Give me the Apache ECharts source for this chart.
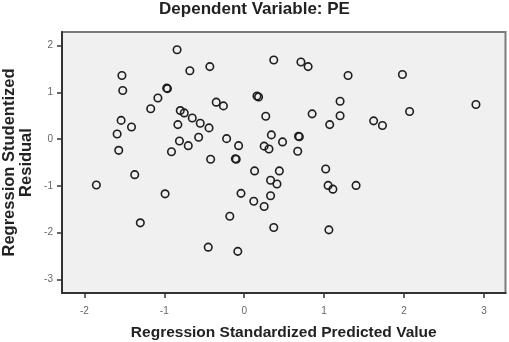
<!DOCTYPE html>
<html>
<head>
<meta charset="utf-8">
<script src="https://cdn.jsdelivr.net/npm/echarts@6/dist/echarts.min.js"></script>
<style>
  html, body { margin: 0; padding: 0; background: #fff; }
  #main { width: 509px; height: 342px; }
</style>
</head>
<body>
<div id="main"></div>
<script>
// 回归标准化预测值 vs 学生化残差
let pred_values = [
  -1.85, -1.53, -1.52, -1.54, -1.59, -1.57, -1.41, -1.37, -1.30, -1.17,
  -1.08, -0.97, -0.96, -0.99, -0.91, -0.84, -0.80, -0.75, -0.83, -0.81,
  -0.70, -0.65, -0.68, -0.55, -0.57, -0.44, -0.43, -0.35, -0.26, -0.42,
  -0.45, -0.22, -0.07, -0.11, -0.10, -0.18, -0.04, -0.08, 0.13, 0.12,
  0.16, 0.18, 0.27, 0.25, 0.31, 0.25, 0.34, 0.37, 0.33, 0.41,
  0.44, 0.33, 0.37, 0.48, 0.68, 0.69, 0.67, 0.71, 0.80, 0.85,
  1.02, 1.05, 1.11, 1.06, 1.07, 1.20, 1.20, 1.30, 1.40, 1.62,
  1.73, 1.98, 2.07, 2.90
];
let resid_values = [
  -0.98, 1.36, 1.04, 0.40, 0.11, -0.24, 0.26, -0.76, -1.79, 0.65,
  0.88, 1.09, 1.08, -1.17, -0.27, 1.91, 0.61, 0.56, 0.31, -0.04,
  -0.14, 0.45, 1.46, 0.34, 0.04, 0.24, 1.55, 0.79, 0.71, -0.43,
  -2.31, 0.01, -0.14, -0.42, -0.43, -1.65, -1.16, -2.40, -0.68, -1.33,
  0.92, 0.90, 0.49, -0.15, -0.21, -1.44, 0.09, 1.69, -0.88, -0.96,
  -0.68, -1.21, -1.89, -0.06, 0.06, 0.05, -0.26, 1.65, 1.55, 0.54,
  -0.64, -0.99, -1.07, -1.94, 0.31, 0.81, 0.50, 1.36, -0.99, 0.39,
  0.29, 1.38, 0.59, 0.74
];
let x_ticks = [-2, -1, 0, 1, 2, 3];
let y_ticks = [-3, -2, -1, 0, 1, 2];

let chart = echarts.init(document.getElementById('main'), null, { renderer: 'canvas' });

let points = [];
for (let i = 0; i < pred_values.length; i++) {
  points.push([pred_values[i], resid_values[i]]);
}

let option = {
  backgroundColor: '#ffffff',
  animation: false,
  title: {
    text: 'Dependent Variable: PE',
    left: 'center',
    top: -4,
    textStyle: {
      fontFamily: 'Liberation Sans, Arial, sans-serif',
      fontSize: 17,
      fontWeight: 'bold',
      color: '#222',
    },
  },
  grid: {
    left: 62,
    right: 3.5,
    top: 32,
    bottom: 49,
    containLabel: false,
    outerBoundsMode: 'none',
    show: true,
    backgroundColor: '#f0f0f0',
    borderColor: '#7a7a7a',
    borderWidth: 2,
  },
  xAxis: {
    type: 'value',
    min: -2.28,
    max: 3.27,
    name: 'Regression Standardized Predicted Value',
    nameLocation: 'middle',
    nameGap: 32,
    nameMoveOverlap: false,
    nameTextStyle: {
      fontFamily: 'Liberation Sans, Arial, sans-serif',
      fontSize: 15.5,
      fontWeight: 'bold',
      color: '#222',
    },
    axisLine: { show: true, onZero: false, lineStyle: { color: '#333', width: 2 } },
    axisTick: { show: true, length: 5, customValues: x_ticks, lineStyle: { color: '#333', width: 1.5 } },
    axisLabel: {
      customValues: x_ticks,
      margin: 13,
      fontFamily: 'Liberation Sans, Arial, sans-serif',
      fontSize: 10,
      color: '#666',
    },
    splitLine: { show: false },
  },
  yAxis: {
    type: 'value',
    min: -3.29,
    max: 2.29,
    name: 'Regression Studentized\nResidual',
    nameLocation: 'middle',
    nameRotate: 90,
    nameGap: 27,
    nameMoveOverlap: false,
    nameTextStyle: {
      fontFamily: 'Liberation Sans, Arial, sans-serif',
      fontSize: 16.5,
      fontWeight: 'bold',
      lineHeight: 17,
      color: '#222',
    },
    axisLine: { show: true, onZero: false, lineStyle: { color: '#333', width: 2 } },
    axisTick: { show: true, length: 5, customValues: y_ticks, lineStyle: { color: '#333', width: 1.5 } },
    axisLabel: {
      customValues: y_ticks,
      margin: 9,
      fontFamily: 'Liberation Sans, Arial, sans-serif',
      fontSize: 10,
      color: '#666',
    },
    splitLine: { show: false },
  },
  series: [
    {
      type: 'scatter',
      data: points,
      symbol: 'circle',
      symbolSize: 7.5,
      itemStyle: {
        color: 'rgba(0,0,0,0)',
        borderColor: '#1e1e1e',
        borderWidth: 1.6,
        opacity: 1,
      },
      emphasis: { disabled: true },
    },
  ],
};
chart.setOption(option);
</script>
</body>
</html>
